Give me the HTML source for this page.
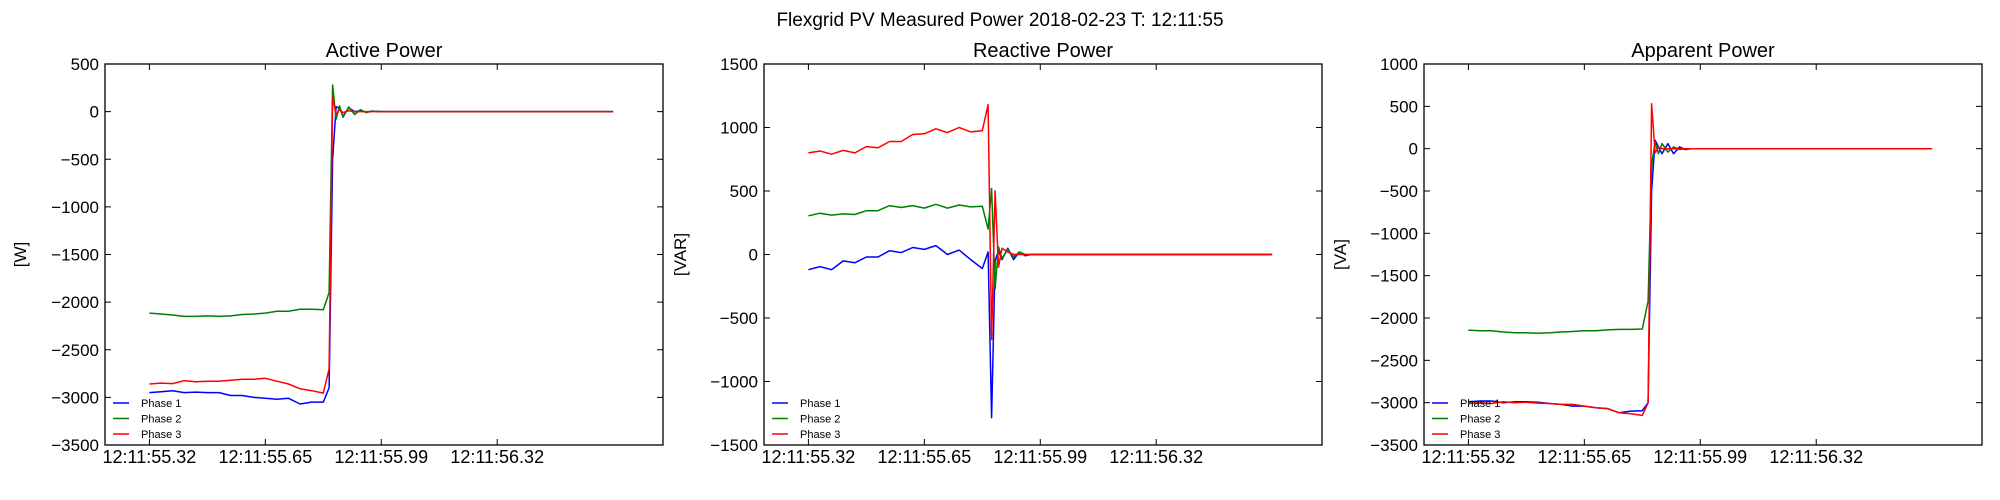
<!DOCTYPE html>
<html><head><meta charset="utf-8"><style>
html,body{margin:0;padding:0;background:#fff;}
svg{display:block;font-family:"Liberation Sans",sans-serif;}
</style></head><body>
<svg id="fig" width="2000" height="500" viewBox="0 0 2000 500">
<rect width="2000" height="500" fill="#fff"/>
<text x="1000" y="26" text-anchor="middle" font-size="19">Flexgrid PV Measured Power 2018-02-23 T: 12:11:55</text>
</svg>
<script>
// shared time axis (tick units; 1 unit = 0.333 s)
const times = [0,0.1,0.2,0.3,0.4,0.5,0.6,0.7,0.8,0.9,1.0,1.1,1.2,1.3,1.4,1.5,1.55,1.58,1.61,1.64,1.67,1.72,1.77,1.82,1.87,1.92,2.0,2.5,3.0,3.5,4.0];
const xTickPos = [0,1,2,3];
const xTickLabels = ["12:11:55.32","12:11:55.65","12:11:55.99","12:11:56.32"];
const seriesNames = ["Phase 1","Phase 2","Phase 3"];

const activeP1 = [-2950,-2940,-2930,-2950,-2945,-2950,-2950,-2980,-2980,-3000,-3010,-3020,-3010,-3070,-3050,-3050,-2900,-500,50,40,-50,40,0,10,-5,5,0,0,0,0,0];
const activeP2 = [-2115,-2125,-2135,-2150,-2150,-2145,-2150,-2145,-2130,-2125,-2115,-2095,-2095,-2075,-2075,-2080,-1900,280,-80,60,-60,50,-30,20,-10,5,0,0,0,0,0];
const activeP3 = [-2860,-2850,-2855,-2825,-2835,-2830,-2830,-2820,-2810,-2810,-2800,-2830,-2860,-2910,-2930,-2955,-2700,150,-30,20,-10,10,0,0,0,0,0,0,0,0,0];

const reactP1 = [-120,-95,-120,-50,-65,-20,-20,30,15,55,40,70,0,35,-40,-110,20,-1285,-50,30,-40,50,-40,20,-10,0,0,0,0,0,0];
const reactP2 = [305,325,310,320,315,345,345,385,370,385,365,395,365,390,375,380,200,520,-270,60,-30,40,-20,20,0,0,0,0,0,0,0];
const reactP3 = [800,815,790,820,800,850,840,890,890,945,950,990,960,1000,965,975,1180,-670,500,-100,50,20,0,0,0,0,0,0,0,0,0];

const apparP1 = [-2990,-2980,-2980,-3000,-2990,-2990,-2995,-3010,-3020,-3040,-3040,-3060,-3070,-3120,-3100,-3095,-3000,-500,100,20,-60,60,-60,20,-10,0,0,0,0,0,0];
const apparP2 = [-2143,-2150,-2150,-2165,-2175,-2175,-2180,-2175,-2165,-2160,-2150,-2150,-2140,-2135,-2135,-2130,-1800,-200,80,-60,60,-40,20,-10,0,0,0,0,0,0,0];
const apparP3 = [-3010,-3000,-3010,-2990,-3000,-2995,-3005,-3010,-3020,-3020,-3040,-3060,-3070,-3120,-3130,-3150,-3000,530,-50,20,0,0,0,0,0,0,0,0,0,0,0];

const activeTicks = [500,0,-500,-1000,-1500,-2000,-2500,-3000,-3500];
const reactTicks = [1500,1000,500,0,-500,-1000,-1500];
const apparTicks = [1000,500,0,-500,-1000,-1500,-2000,-2500,-3000,-3500];

const NS="http://www.w3.org/2000/svg";
const svg=document.getElementById('fig');
function mk(tag,attrs,parent){const e=document.createElementNS(NS,tag);for(const k in attrs)e.setAttribute(k,attrs[k]);(parent||svg).appendChild(e);return e;}
const colors=["#0000ff","#008000","#ff0000"];

function panel(key,left,title,ylabel,ylabX,ticks,data){
  const top=64,bottom=445,right=left+558;
  const xMin=-0.383,xMax=4.43;
  const yMax=ticks[0],yMin=ticks[ticks.length-1];
  const X=t=>left+(t-xMin)/(xMax-xMin)*(right-left);
  const Y=v=>top+(yMax-v)/(yMax-yMin)*(bottom-top);
  const g=mk('g',{});
  
  
  const tt=mk('text',{x:(left+right)/2,y:57,'text-anchor':'middle','font-size':20},g);
  tt.textContent=title;
  
  
  const yl=mk('text',{x:ylabX,y:(top+bottom)/2,'text-anchor':'middle','font-size':17,transform:`rotate(-90 ${ylabX} ${(top+bottom)/2})`},g);
  yl.textContent=ylabel;
  
  
  ticks.forEach(v=>{
    const y=Y(v);
    mk('line',{x1:left,x2:left+6,y1:y,y2:y,stroke:'#000','stroke-width':1},g);
    mk('line',{x1:right-6,x2:right,y1:y,y2:y,stroke:'#000','stroke-width':1},g);
    const t=mk('text',{x:left-6,y:y+6,'text-anchor':'end','font-size':17},g);
    t.textContent=(v<0?'\u2212'+Math.abs(v):String(v));
    
    
  });
  xTickPos.forEach((p,i)=>{
    const x=X(p);
    mk('line',{x1:x,x2:x,y1:top,y2:top+6,stroke:'#000','stroke-width':1},g);
    mk('line',{x1:x,x2:x,y1:bottom-6,y2:bottom,stroke:'#000','stroke-width':1},g);
    const t=mk('text',{x:x,y:bottom+18,'text-anchor':'middle','font-size':18},g);
    t.textContent=xTickLabels[i];
    
    
  });
  data.forEach((arr,si)=>{
    const d=arr.map((v,i)=>(i?'L':'M')+X(times[i]).toFixed(1)+','+Y(v).toFixed(1)).join(' ');
    const p=mk('path',{d:d,fill:'none',stroke:colors[si],'stroke-width':1.5,'stroke-linejoin':'round'},g);
    
    
  });
  mk('rect',{x:left,y:top,width:right-left,height:bottom-top,fill:'none',stroke:'#000','stroke-width':1.3},g);
  seriesNames.forEach((n,i)=>{
    const y=403+i*15.5;
    const lg=mk('g',{},g);
    
    
    mk('line',{x1:left+8,x2:left+24,y1:y,y2:y,stroke:colors[i],'stroke-width':1.5},lg);
    const t=mk('text',{x:left+36,y:y+4,'font-size':11},lg);
    t.textContent=n;
  });
}
panel('active',105,'Active Power','[W]',26,activeTicks,[activeP1,activeP2,activeP3]);
panel('reactive',764,'Reactive Power','[VAR]',686,reactTicks,[reactP1,reactP2,reactP3]);
panel('apparent',1424,'Apparent Power','[VA]',1346,apparTicks,[apparP1,apparP2,apparP3]);
</script>
</body></html>
